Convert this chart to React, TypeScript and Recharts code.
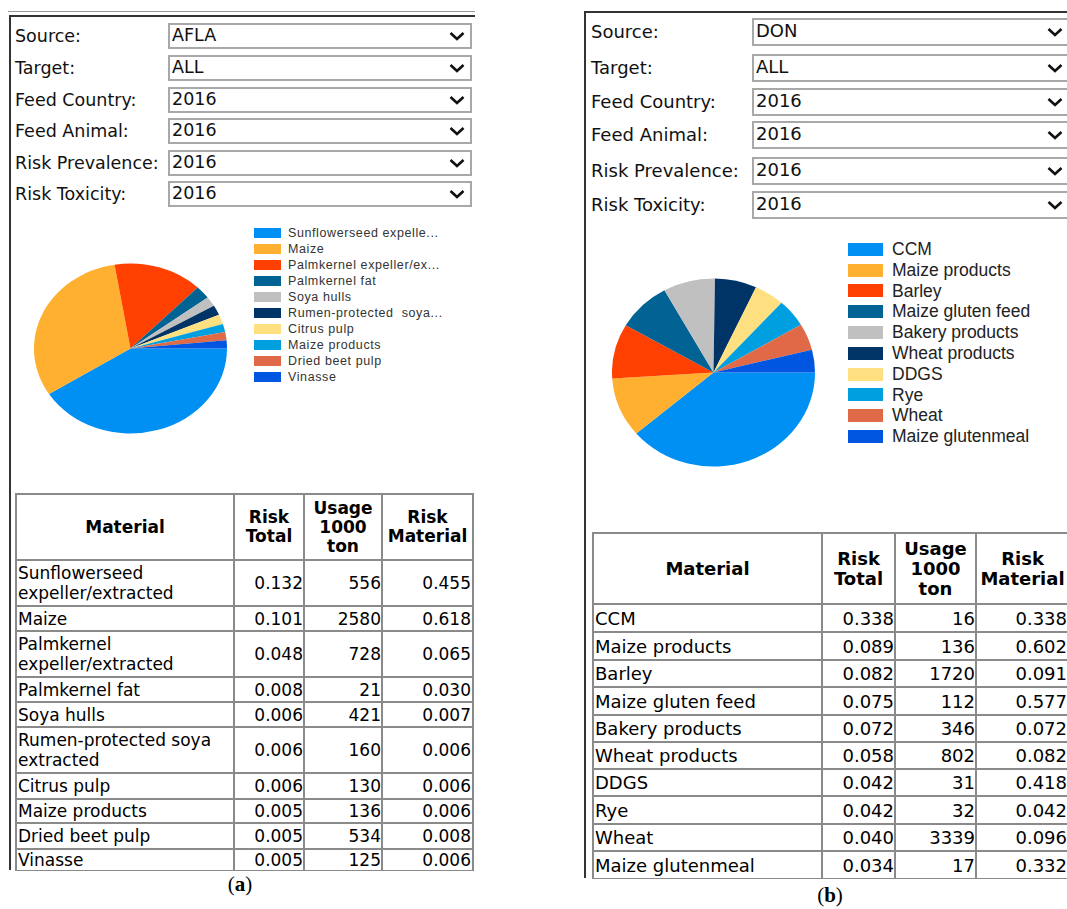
import React from 'react';
import { PieChart, Pie, Cell } from 'recharts';

// panel (a): AFLA
const materialsA = [
  'Sunflowerseed expeller/extracted',
  'Maize',
  'Palmkernel expeller/extracted',
  'Palmkernel fat',
  'Soya hulls',
  'Rumen-protected soya extracted',
  'Citrus pulp',
  'Maize products',
  'Dried beet pulp',
  'Vinasse',
];
const legendA = [
  'Sunflowerseed expelle...',
  'Maize',
  'Palmkernel expeller/ex...',
  'Palmkernel fat',
  'Soya hulls',
  'Rumen-protected  soya...',
  'Citrus pulp',
  'Maize products',
  'Dried beet pulp',
  'Vinasse',
];
const riskTotalA = [0.132, 0.101, 0.048, 0.008, 0.006, 0.006, 0.006, 0.005, 0.005, 0.005];
const usageA = [556, 2580, 728, 21, 421, 160, 130, 136, 534, 125];
const riskMaterialA = [0.455, 0.618, 0.065, 0.03, 0.007, 0.006, 0.006, 0.006, 0.008, 0.006];
const rowHeightsA = [46, 25, 46, 25, 25, 46, 26, 24, 26, 22];

// panel (b): DON
const materialsB = [
  'CCM',
  'Maize products',
  'Barley',
  'Maize gluten feed',
  'Bakery products',
  'Wheat products',
  'DDGS',
  'Rye',
  'Wheat',
  'Maize glutenmeal',
];
const riskTotalB = [0.338, 0.089, 0.082, 0.075, 0.072, 0.058, 0.042, 0.042, 0.04, 0.034];
const usageB = [16, 136, 1720, 112, 346, 802, 31, 32, 3339, 17];
const riskMaterialB = [0.338, 0.602, 0.091, 0.577, 0.072, 0.082, 0.418, 0.042, 0.096, 0.332];

const filterLabels = ['Source:', 'Target:', 'Feed Country:', 'Feed Animal:', 'Risk Prevalence:', 'Risk Toxicity:'];
const filterValuesA = ['AFLA', 'ALL', '2016', '2016', '2016', '2016'];
const filterValuesB = ['DON', 'ALL', '2016', '2016', '2016', '2016'];
const headerLines = [['Material'], ['Risk', 'Total'], ['Usage', '1000', 'ton'], ['Risk', 'Material']];

const COLORS = ['#008ff2', '#ffb030', '#ff4000', '#006394', '#c0c0c0', '#003366', '#ffe080', '#00a0e0', '#e06a48', '#0056e0'];

const FONT = '"DejaVu Sans", Verdana, sans-serif';
const LEGEND_FONT = '"Liberation Sans", Arial, sans-serif';

type FilterProps = { left: number; labelLeft: number; width: number; tops: number[]; h: number; values: string[]; fontSize: number; arrowX: number };

const Filters = ({ left, labelLeft, width, tops, h, values, fontSize, arrowX }: FilterProps) => (
  <>
    {filterLabels.map((lab, i) => (
      <React.Fragment key={lab}>
        <div style={{ position: 'absolute', left: labelLeft, top: tops[i], height: h, lineHeight: `${h}px`, fontSize, fontFamily: FONT, color: '#111', whiteSpace: 'nowrap' }}>{lab}</div>
        <div style={{ position: 'absolute', left, top: tops[i], width, height: h, boxSizing: 'border-box', border: '2px solid #a8a8a8', background: '#fff', fontSize, fontFamily: FONT, lineHeight: `${h - 6}px`, paddingLeft: 2, color: '#111' }}>
          {values[i]}
        </div>
        <svg style={{ position: 'absolute', left: arrowX - 8, top: tops[i] + h / 2 - 5 }} width={16} height={10}>
          <polyline points="1.5,2 8,8 14.5,2" fill="none" stroke="#111" strokeWidth={2.6} />
        </svg>
      </React.Fragment>
    ))}
  </>
);

type TableProps = {
  left: number; top: number; colWidths: number[]; headH: number; rowHeights: number[]; clipH: number; clipW: number;
  names: string[]; total: number[]; usage: number[]; mat: number[]; fontSize: number; lineH: number;
};

const cell: React.CSSProperties = { border: '2px solid #8a8a8a', padding: '0 1px', verticalAlign: 'middle', overflow: 'hidden' };

const RiskTable = ({ left, top, colWidths, headH, rowHeights, clipH, clipW, names, total, usage, mat, fontSize, lineH }: TableProps) => (
  <div style={{ position: 'absolute', left, top, width: clipW, height: clipH, overflow: 'hidden' }}>
    <table style={{ borderCollapse: 'collapse', tableLayout: 'fixed', width: colWidths.reduce((a, b) => a + b, 0), fontFamily: FONT, fontSize, color: '#000', lineHeight: `${lineH}px` }}>
      <colgroup>
        {colWidths.map((w, i) => <col key={i} style={{ width: w }} />)}
      </colgroup>
      <thead>
        <tr style={{ height: headH }}>
          {headerLines.map((lines, i) => (
            <th key={i} style={{ ...cell, textAlign: 'center', fontWeight: 'bold', lineHeight: `${lineH - 1}px`, padding: 0 }}>
              {lines.map((l, j) => <div key={j}>{l}</div>)}
            </th>
          ))}
        </tr>
      </thead>
      <tbody>
        {names.map((n, i) => (
          <tr key={n} style={{ height: rowHeights[i] }}>
            <td style={{ ...cell, textAlign: 'left' }}>{n}</td>
            <td style={{ ...cell, textAlign: 'right', paddingRight: 0 }}>{total[i].toFixed(3)}</td>
            <td style={{ ...cell, textAlign: 'right', paddingRight: 0 }}>{usage[i]}</td>
            <td style={{ ...cell, textAlign: 'right', paddingRight: 1 }}>{mat[i].toFixed(3)}</td>
          </tr>
        ))}
      </tbody>
    </table>
  </div>
);

type PieBoxProps = { cx: number; cy: number; rx: number; ry: number; values: number[]; names: string[] };

const PieBox = ({ cx, cy, rx, ry, values, names }: PieBoxProps) => {
  const data = names.map((name, i) => ({ name, value: values[i] }));
  const size = Math.ceil(rx * 2) + 2;
  return (
    <div style={{ position: 'absolute', left: cx - size / 2, top: cy - size / 2, width: size, height: size, transform: `scaleY(${ry / rx})`, transformOrigin: 'center' }}>
      <PieChart width={size} height={size} margin={{ top: 0, right: 0, bottom: 0, left: 0 }}>
        <Pie data={data} dataKey="value" nameKey="name" cx={size / 2} cy={size / 2} outerRadius={rx} startAngle={0} endAngle={-360} stroke="none" isAnimationActive={false}>
          {data.map((d, idx) => <Cell key={d.name} fill={COLORS[idx % COLORS.length]} />)}
        </Pie>
      </PieChart>
    </div>
  );
};

type LegendProps = { left: number; top: number; pitch: number; sw: number; sh: number; gap: number; labels: string[]; fontSize: number; spacing: number; color: string };

const PieLegend = ({ left, top, pitch, sw, sh, gap, labels, fontSize, spacing, color }: LegendProps) => (
  <>
    {labels.map((l, i) => (
      <div key={i} style={{ position: 'absolute', left, top: top + i * pitch, height: pitch, display: 'flex', alignItems: 'center', whiteSpace: 'pre' }}>
        <div style={{ width: sw, height: sh, background: COLORS[i], marginRight: gap }} />
        <span style={{ fontFamily: LEGEND_FONT, fontSize, letterSpacing: spacing, color }}>{l}</span>
      </div>
    ))}
  </>
);

const App = () => (
  <div style={{ position: 'fixed', left: 0, top: 0, width: 1067, height: 909, overflow: 'hidden', background: '#fff' }}>
    {/* panel (a) frame */}
    <div style={{ position: 'absolute', left: 8, top: 11, width: 467, height: 1, background: '#9a9a9a' }} />
    <div style={{ position: 'absolute', left: 9, top: 15, width: 466, height: 2, background: '#333' }} />
    <div style={{ position: 'absolute', left: 9, top: 15, width: 2, height: 855, background: '#333' }} />

    <Filters left={168} labelLeft={15} width={304} tops={[23, 55, 87, 118, 150, 181]} h={26} values={filterValuesA} fontSize={17.5} arrowX={457} />
    <PieBox cx={130} cy={348} rx={96.5} ry={85} values={riskTotalA} names={materialsA} />
    <PieLegend left={254} top={225} pitch={16} sw={27} sh={10} gap={7} labels={legendA} fontSize={12.5} spacing={0.6} color="#333" />
    <RiskTable left={15} top={493} colWidths={[218, 70, 78, 91]} headH={66} rowHeights={rowHeightsA} clipH={378} clipW={460}
      names={materialsA} total={riskTotalA} usage={usageA} mat={riskMaterialA} fontSize={17} lineH={20} />

    {/* panel (b) frame */}
    <div style={{ position: 'absolute', left: 584, top: 11, width: 483, height: 2, background: '#333' }} />
    <div style={{ position: 'absolute', left: 584, top: 11, width: 2, height: 867, background: '#333' }} />

    <Filters left={752} labelLeft={591} width={330} tops={[18, 54, 88, 121, 157, 191]} h={28} values={filterValuesB} fontSize={18} arrowX={1055} />
    <PieBox cx={713.5} cy={372} rx={101.5} ry={94} values={riskTotalB} names={materialsB} />
    <PieLegend left={848} top={239} pitch={20.8} sw={35} sh={13} gap={9} labels={materialsB} fontSize={17.5} spacing={0} color="#222" />
    <RiskTable left={592} top={532} colWidths={[229, 73, 81, 93]} headH={71} rowHeights={[28, 28, 27, 28, 27, 27, 27, 28, 27, 28]} clipH={347} clipW={475}
      names={materialsB} total={riskTotalB} usage={usageB} mat={riskMaterialB} fontSize={18} lineH={21} />

    {/* captions */}
    <div style={{ position: 'absolute', left: 220, top: 872, width: 40, textAlign: 'center', fontFamily: '"Liberation Serif", serif', fontSize: 21 }}>
      (<b>a</b>)
    </div>
    <div style={{ position: 'absolute', left: 810, top: 883, width: 40, textAlign: 'center', fontFamily: '"Liberation Serif", serif', fontSize: 21 }}>
      (<b>b</b>)
    </div>
  </div>
);

export default App;
